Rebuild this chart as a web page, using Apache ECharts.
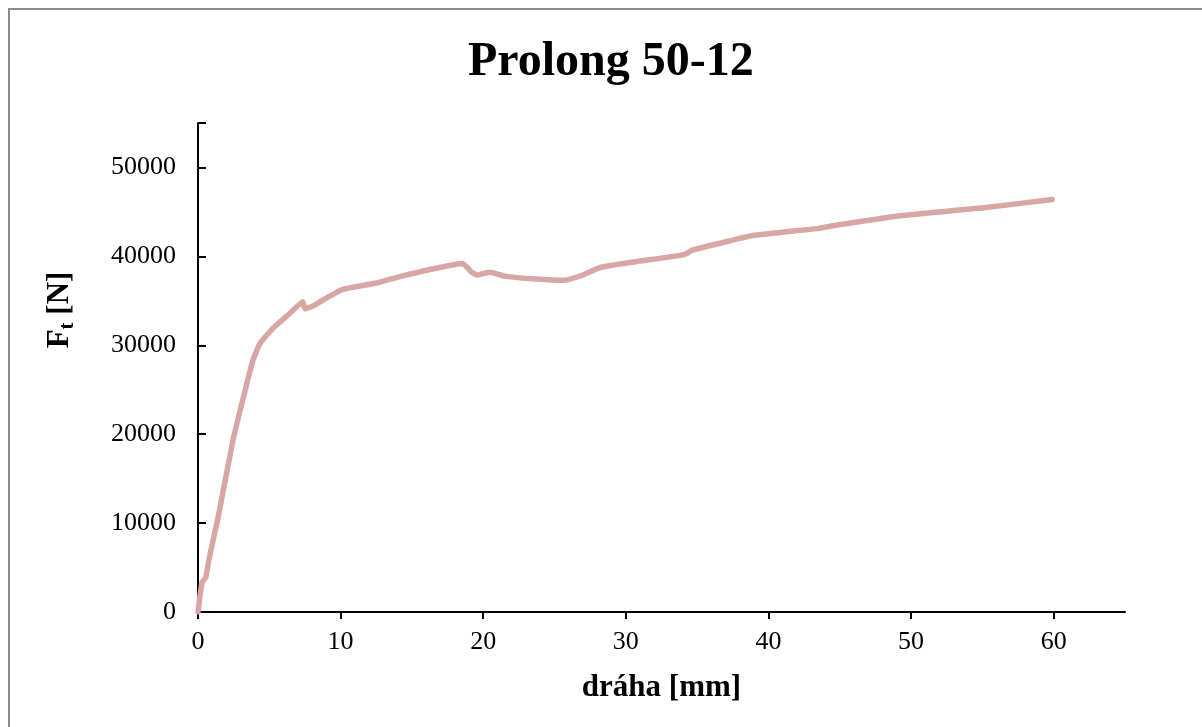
<!DOCTYPE html>
<html>
<head>
<meta charset="utf-8">
<script src="https://cdn.jsdelivr.net/npm/echarts@6/dist/echarts.min.js"></script>
<style>
  html, body { margin: 0; padding: 0; background: #fff; }
  #chart { width: 1202px; height: 727px; }
</style>
</head>
<body>
<div id="chart"></div>
<script>
// dráha [mm] a síla Ft [N]
const drahaMm = [0, 0.28, 0.55, 0.75, 1.4, 2.45, 3.3, 3.85, 4.35, 5.25, 6.45, 7.35, 7.5, 8.05, 9.0, 10.15,
  12.5, 14.1, 16.2, 18.55, 19.2, 19.6, 20.45, 21.6, 23.7, 25.6, 26.9, 28.2, 30.7, 34.1, 34.65,
  36.55, 38.9, 43.55, 44.7, 49.4, 55.25, 59.9];
const silaN = [0, 3300, 3900, 5800, 10560, 19300, 24900, 28300, 30200, 31900, 33600, 34900, 34100, 34400, 35300, 36300,
  37000, 37700, 38500, 39200, 38200, 37900, 38200, 37750, 37450, 37300, 37850, 38750, 39400, 40200, 40700,
  41450, 42350, 43150, 43500, 44600, 45500, 46400];

const xTicks = [0, 10, 20, 30, 40, 50, 60];
const yTicks = [0, 10000, 20000, 30000, 40000, 50000];

const serif = '"Liberation Serif", "DejaVu Serif", serif';

const chart = echarts.init(document.getElementById('chart'));
const data = drahaMm.map((x, i) => [x, silaN[i]]);

chart.setOption({
  backgroundColor: '#fff',
  animation: false,
  graphic: [{
    type: 'rect',
    shape: { x: 9, y: 9, width: 1260, height: 800 },
    style: { fill: 'none', stroke: '#8c8c8c', lineWidth: 2 },
    silent: true
  }, {
    // název osy y s dolním indexem
    type: 'text',
    x: 60,
    y: 310,
    rotation: Math.PI / 2,
    silent: true,
    style: {
      text: '{b|F}{s|t}{b| [N]}',
      align: 'center',
      verticalAlign: 'middle',
      rich: {
        b: { fontFamily: serif, fontWeight: 'bold', fontSize: 31, fill: '#000' },
        s: { fontFamily: serif, fontWeight: 'bold', fontSize: 21, fill: '#000', padding: [16, 0, 0, 0] }
      }
    }
  }],
  title: {
    text: 'Prolong 50-12',
    left: 463,
    top: 34,
    textStyle: { fontFamily: serif, fontWeight: 'bold', fontSize: 48, color: '#000' }
  },
  grid: { left: 198, top: 123, right: 77, bottom: 115 },
  xAxis: {
    type: 'value',
    min: 0,
    max: 65,
    interval: 10,
    name: 'dráha [mm]',
    nameLocation: 'middle',
    nameGap: 60,
    nameTextStyle: { fontFamily: serif, fontWeight: 'bold', fontSize: 31, color: '#000' },
    axisLine: { show: true, lineStyle: { color: '#000', width: 2 } },
    axisTick: { show: true, inside: false, length: 7, lineStyle: { color: '#000', width: 2 },
      customValues: xTicks },
    axisLabel: { fontFamily: serif, fontSize: 26, color: '#000', margin: 17, customValues: xTicks,
      formatter: v => String(v) },
    splitLine: { show: false }
  },
  yAxis: {
    type: 'value',
    min: 0,
    max: 55000,
    interval: 10000,
    axisLine: { show: true, lineStyle: { color: '#000', width: 2 } },
    axisTick: { show: true, inside: true, length: 8, lineStyle: { color: '#000', width: 2 } },
    axisLabel: { fontFamily: serif, fontSize: 26, color: '#000', margin: 22,
      formatter: v => (yTicks.indexOf(v) >= 0 ? String(v) : '') },
    splitLine: { show: false }
  },
  series: [{
    type: 'line',
    data: data,
    showSymbol: false,
    smooth: 0.15,
    lineStyle: { color: '#d8a7a5', width: 5.5, cap: 'round', join: 'round' }
  }]
});
</script>
</body>
</html>
